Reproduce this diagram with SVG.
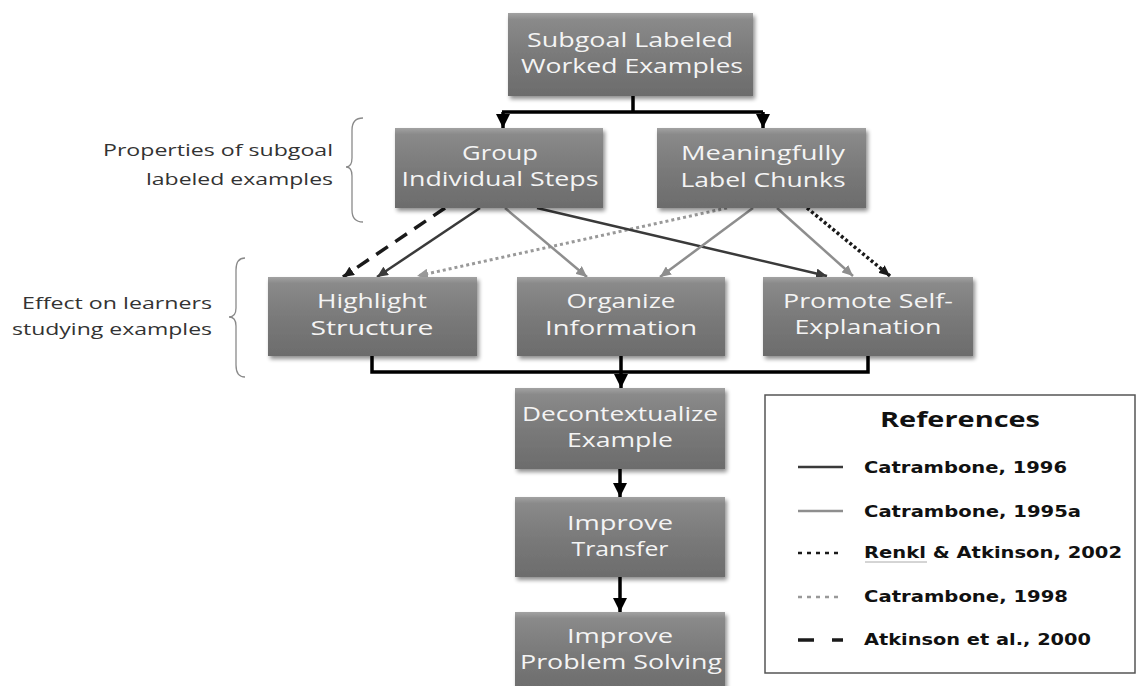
<svg xmlns="http://www.w3.org/2000/svg" width="1139" height="686" viewBox="0 0 1139 686">
<style>
.box{fill:url(#g);filter:url(#sh)}
.nt{font-family:"Open Sans","Liberation Sans",sans-serif;font-size:20px;fill:#f4f4f4;text-anchor:middle}
.side{font-family:"Open Sans","Liberation Sans",sans-serif;font-size:16px;fill:#333}
.brace{fill:none;stroke:#8a8a8a;stroke-width:1.3}
.main{fill:none;stroke:#000;stroke-width:3.5}
.c96{stroke:#3a3a3a;stroke-width:2.5;fill:none}
.c95{stroke:#8e8e8e;stroke-width:2.5;fill:none}
.c98{stroke:#999;stroke-width:3;fill:none;stroke-dasharray:3 3}
.c02{stroke:#1a1a1a;stroke-width:3.5;fill:none;stroke-dasharray:3 2.5}
.c00{stroke:#1a1a1a;stroke-width:3.5;fill:none;stroke-dasharray:14 9}
.lt{font-family:"DejaVu Sans","Verdana",sans-serif;font-weight:bold;font-size:15px;fill:#111}
.lh{font-family:"Open Sans","Liberation Sans",sans-serif;font-weight:bold;font-size:22px;fill:#111;text-anchor:middle}
</style>
<defs>
<linearGradient id="g" x1="0" y1="0" x2="0" y2="1">
<stop offset="0" stop-color="#a2a2a2"/>
<stop offset="0.08" stop-color="#8a8a8a"/>
<stop offset="0.5" stop-color="#7a7a7a"/>
<stop offset="1" stop-color="#6c6c6c"/>
</linearGradient>
<filter id="sh" x="-10%" y="-10%" width="125%" height="130%">
<feGaussianBlur in="SourceAlpha" stdDeviation="2"/>
<feOffset dx="1.5" dy="2.5" result="b"/>
<feComponentTransfer><feFuncA type="linear" slope="0.45"/></feComponentTransfer>
<feMerge><feMergeNode/><feMergeNode in="SourceGraphic"/></feMerge>
</filter>
<marker id="mB" markerUnits="userSpaceOnUse" markerWidth="16" markerHeight="14" refX="14" refY="7" orient="auto"><path d="M0,0 L14,7 L0,14 z" fill="#000"/></marker>
<marker id="m96" markerUnits="userSpaceOnUse" markerWidth="12" markerHeight="10" refX="11" refY="5" orient="auto"><path d="M0,0 L11,5 L0,10 z" fill="#3a3a3a"/></marker>
<marker id="m95" markerUnits="userSpaceOnUse" markerWidth="12" markerHeight="10" refX="11" refY="5" orient="auto"><path d="M0,0 L11,5 L0,10 z" fill="#8e8e8e"/></marker>
<marker id="m98" markerUnits="userSpaceOnUse" markerWidth="12" markerHeight="10" refX="11" refY="5" orient="auto"><path d="M0,0 L11,5 L0,10 z" fill="#999"/></marker>
<marker id="mK" markerUnits="userSpaceOnUse" markerWidth="12" markerHeight="10" refX="11" refY="5" orient="auto"><path d="M0,0 L11,5 L0,10 z" fill="#1a1a1a"/></marker>
</defs>
<rect width="1139" height="686" fill="#fff"/>

<g id="side-labels">
<text class="side" x="333" y="156" text-anchor="end" textLength="230" lengthAdjust="spacingAndGlyphs">Properties of subgoal</text>
<text class="side" x="333" y="185" text-anchor="end" textLength="187" lengthAdjust="spacingAndGlyphs">labeled examples</text>
<path class="brace" d="M363,118 Q352,118 352,130 L352,158 Q352,167 346,167 Q352,167 352,176 L352,210 Q352,222 363,222"/>
<text class="side" x="212" y="309" text-anchor="end" textLength="190" lengthAdjust="spacingAndGlyphs">Effect on learners</text>
<text class="side" x="212" y="335" text-anchor="end" textLength="200" lengthAdjust="spacingAndGlyphs">studying examples</text>
<path class="brace" d="M245,258 Q236,258 236,270 L236,308 Q236,317 229,317 Q236,317 236,326 L236,365 Q236,377 245,377"/>
</g>

<g id="connectors">
<path class="main" d="M633,96 V112 M502,112 H763"/>
<line class="main" x1="503" y1="112" x2="503" y2="128" marker-end="url(#mB)"/>
<line class="main" x1="763" y1="112" x2="763" y2="128" marker-end="url(#mB)"/>
<line class="c00" x1="445" y1="208" x2="343" y2="277" marker-end="url(#mK)"/>
<line class="c96" x1="480" y1="208" x2="377" y2="277" marker-end="url(#m96)"/>
<line class="c98" x1="727" y1="208" x2="417" y2="276" marker-end="url(#m98)"/>
<line class="c95" x1="505" y1="208" x2="587" y2="277" marker-end="url(#m95)"/>
<line class="c96" x1="537" y1="208" x2="827" y2="276" marker-end="url(#m96)"/>
<line class="c95" x1="753" y1="208" x2="660" y2="277" marker-end="url(#m95)"/>
<line class="c95" x1="777" y1="208" x2="853" y2="276" marker-end="url(#m95)"/>
<line class="c02" x1="807" y1="208" x2="890" y2="276" marker-end="url(#mK)"/>
<path class="main" d="M372,356 V372 H868 V356"/>
<line class="main" x1="621" y1="356" x2="621" y2="388" marker-end="url(#mB)"/>
<line class="main" x1="620" y1="469" x2="620" y2="497" marker-end="url(#mB)"/>
<line class="main" x1="620" y1="577" x2="620" y2="612" marker-end="url(#mB)"/>
</g>

<g id="n-subgoal">
<rect class="box" x="508" y="13" width="245" height="83"/>
<text class="nt" x="630" y="47" textLength="206" lengthAdjust="spacingAndGlyphs">Subgoal Labeled</text>
<text class="nt" x="632" y="73" textLength="222" lengthAdjust="spacingAndGlyphs">Worked Examples</text>
</g>
<g id="n-group">
<rect class="box" x="395" y="128" width="208" height="80"/>
<text class="nt" x="500" y="160" textLength="76" lengthAdjust="spacingAndGlyphs">Group</text>
<text class="nt" x="500" y="186" textLength="197" lengthAdjust="spacingAndGlyphs">Individual Steps</text>
</g>
<g id="n-label">
<rect class="box" x="657" y="128" width="209" height="80"/>
<text class="nt" x="763" y="160" textLength="164" lengthAdjust="spacingAndGlyphs">Meaningfully</text>
<text class="nt" x="763" y="187" textLength="165" lengthAdjust="spacingAndGlyphs">Label Chunks</text>
</g>
<g id="n-highlight">
<rect class="box" x="268" y="277" width="209" height="79"/>
<text class="nt" x="372" y="308" textLength="110" lengthAdjust="spacingAndGlyphs">Highlight</text>
<text class="nt" x="372" y="335" textLength="123" lengthAdjust="spacingAndGlyphs">Structure</text>
</g>
<g id="n-organize">
<rect class="box" x="517" y="277" width="208" height="79"/>
<text class="nt" x="621" y="308" textLength="109" lengthAdjust="spacingAndGlyphs">Organize</text>
<text class="nt" x="621" y="335" textLength="152" lengthAdjust="spacingAndGlyphs">Information</text>
</g>
<g id="n-promote">
<rect class="box" x="763" y="277" width="210" height="79"/>
<text class="nt" x="868" y="308" textLength="170" lengthAdjust="spacingAndGlyphs">Promote Self-</text>
<text class="nt" x="868" y="334" textLength="147" lengthAdjust="spacingAndGlyphs">Explanation</text>
</g>
<g id="n-decontext">
<rect class="box" x="515" y="388" width="210" height="81"/>
<text class="nt" x="620" y="421" textLength="196" lengthAdjust="spacingAndGlyphs">Decontextualize</text>
<text class="nt" x="620" y="447" textLength="106" lengthAdjust="spacingAndGlyphs">Example</text>
</g>
<g id="n-transfer">
<rect class="box" x="515" y="497" width="210" height="80"/>
<text class="nt" x="620" y="530" textLength="106" lengthAdjust="spacingAndGlyphs">Improve</text>
<text class="nt" x="620" y="556" textLength="97" lengthAdjust="spacingAndGlyphs">Transfer</text>
</g>
<g id="n-problem">
<rect class="box" x="515" y="612" width="210" height="80"/>
<text class="nt" x="620" y="643" textLength="106" lengthAdjust="spacingAndGlyphs">Improve</text>
<text class="nt" x="621" y="669" textLength="202" lengthAdjust="spacingAndGlyphs">Problem Solving</text>
</g>

<g id="legend">
<rect x="765" y="395" width="370" height="278" fill="#fff" stroke="#555" stroke-width="1.5"/>
<text class="lh" x="960" y="427" textLength="160" lengthAdjust="spacingAndGlyphs">References</text>
<line class="c96" x1="798" y1="467" x2="843" y2="467"/>
<text class="lt" x="864" y="473" textLength="203" lengthAdjust="spacingAndGlyphs">Catrambone, 1996</text>
<line class="c95" x1="798" y1="511" x2="843" y2="511"/>
<text class="lt" x="864" y="517" textLength="217" lengthAdjust="spacingAndGlyphs">Catrambone, 1995a</text>
<line x1="798" y1="553" x2="843" y2="553" stroke="#1a1a1a" stroke-width="2.5" stroke-dasharray="4 5"/>
<text class="lt" x="864" y="558" textLength="258" lengthAdjust="spacingAndGlyphs">Renkl &amp; Atkinson, 2002</text>
<line x1="865" y1="562" x2="927" y2="562" stroke="#aaa" stroke-width="1"/>
<line x1="798" y1="597" x2="843" y2="597" stroke="#999" stroke-width="2.5" stroke-dasharray="4 5"/>
<text class="lt" x="864" y="602" textLength="204" lengthAdjust="spacingAndGlyphs">Catrambone, 1998</text>
<path d="M798,640 H814 M832,640 H843" stroke="#1a1a1a" stroke-width="3.5" fill="none"/>
<text class="lt" x="864" y="645" textLength="227" lengthAdjust="spacingAndGlyphs">Atkinson et al., 2000</text>
</g>
</svg>
